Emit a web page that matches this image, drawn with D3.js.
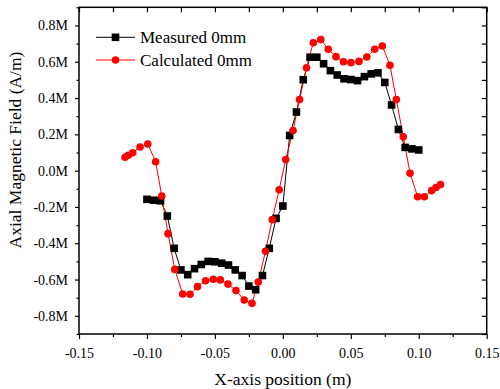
<!DOCTYPE html>
<html><head><meta charset="utf-8">
<script src="https://cdn.jsdelivr.net/npm/d3@7/dist/d3.min.js"></script>
<style>body{margin:0;background:#fff;} svg{display:block;} svg text{font-family:"Liberation Serif","Times New Roman",serif !important;fill:#000;}</style>
</head><body>
<svg id="c" width="500" height="389"></svg>
<script>
const xTicks = [-0.15,-0.10,-0.05,0.00,0.05,0.10,0.15];
const xMinor = [-0.125,-0.075,-0.025,0.025,0.075,0.125];
const yTicks = [-0.8,-0.6,-0.4,-0.2,0.0,0.2,0.4,0.6,0.8];
const yMinor = [-0.9,-0.7,-0.5,-0.3,-0.1,0.1,0.3,0.5,0.7,0.9];
const seriesNames = ["Measured 0mm","Calculated 0mm"];

const measuredX = [-0.100,-0.095,-0.090,-0.085,-0.080,-0.075,-0.070,-0.065,-0.060,-0.055,-0.050,-0.045,-0.040,-0.035,-0.030,-0.025,-0.020,-0.015,-0.010,-0.005,0.000,0.005,0.010,0.015,0.020,0.025,0.030,0.035,0.040,0.045,0.050,0.055,0.060,0.065,0.070,0.075,0.080,0.085,0.090,0.095,0.100];
const measuredY = [-0.158,-0.163,-0.166,-0.250,-0.428,-0.547,-0.573,-0.540,-0.517,-0.500,-0.502,-0.510,-0.520,-0.547,-0.578,-0.636,-0.656,-0.578,-0.428,-0.263,-0.195,0.194,0.323,0.501,0.625,0.625,0.589,0.551,0.527,0.506,0.502,0.496,0.518,0.533,0.539,0.486,0.362,0.227,0.128,0.120,0.114];

const calcX = [-0.1161,-0.1137,-0.1105,-0.1051,-0.0994,-0.0936,-0.0891,-0.0845,-0.0795,-0.0737,-0.0683,-0.0628,-0.0569,-0.0512,-0.0460,-0.0404,-0.0345,-0.0284,-0.0227,-0.0181,-0.0128,-0.0078,-0.0027,0.0021,0.0075,0.0123,0.0174,0.0224,0.0279,0.0334,0.0391,0.0446,0.0501,0.0560,0.0618,0.0676,0.0732,0.0788,0.0835,0.0886,0.0936,0.0992,0.1041,0.1095,0.1127,0.1160];
const calcY = [0.074,0.085,0.099,0.130,0.147,0.049,-0.140,-0.347,-0.544,-0.680,-0.681,-0.639,-0.607,-0.598,-0.602,-0.625,-0.661,-0.713,-0.731,-0.614,-0.444,-0.270,-0.105,0.061,0.221,0.392,0.567,0.705,0.722,0.669,0.628,0.600,0.595,0.602,0.626,0.669,0.687,0.581,0.392,0.187,-0.014,-0.144,-0.144,-0.110,-0.093,-0.076];

const L=79, R=486.7, T=7.3, B=334;
const FONT = '"Liberation Serif","Times New Roman",serif';
const svg = d3.select("#c");
const x = d3.scaleLinear().domain([-0.15,0.15]).range([L,R]);
const y = d3.scaleLinear().domain([-0.9,0.9]).range([B,T]);

function styleAxis(g){
  g.attr("font-family",FONT);
  g.select(".domain").remove();
  g.selectAll("line").attr("stroke","#000").attr("stroke-width",1.2);
  g.selectAll("text").style("font-family",FONT).attr("font-size",14).attr("fill","#000");
}

// bottom axis
const gb = svg.append("g").attr("transform",`translate(0,${B})`)
  .call(d3.axisBottom(x).tickValues(xTicks).tickSize(5).tickPadding(9).tickFormat(d=>d.toFixed(2)));
styleAxis(gb);
const gbm = svg.append("g").attr("transform",`translate(0,${B})`)
  .call(d3.axisBottom(x).tickValues(xMinor).tickSize(3).tickFormat(""));
styleAxis(gbm);
// top axis (inward)
const gt = svg.append("g").attr("transform",`translate(0,${T})`)
  .call(d3.axisBottom(x).tickValues(xTicks.concat(xMinor)).tickSize(5).tickFormat(""));
styleAxis(gt);
// left axis
const gl = svg.append("g").attr("transform",`translate(${L},0)`)
  .call(d3.axisLeft(y).tickValues(yTicks).tickSize(4).tickPadding(7).tickFormat(d=>d.toFixed(1)+"M"));
styleAxis(gl);
const glm = svg.append("g").attr("transform",`translate(${L},0)`)
  .call(d3.axisLeft(y).tickValues(yMinor).tickSize(2.5).tickFormat(""));
styleAxis(glm);
// right axis (inward)
const gr = svg.append("g").attr("transform",`translate(${R},0)`)
  .call(d3.axisLeft(y).tickValues(yTicks.concat(yMinor)).tickSize(5).tickFormat(""));
styleAxis(gr);

// frame
svg.append("rect").attr("x",L).attr("y",T).attr("width",R-L).attr("height",B-T)
  .attr("fill","none").attr("stroke","#000").attr("stroke-width",1.5);

// series
const mData = measuredX.map((v,i)=>[v,measuredY[i]]);
const cData = calcX.map((v,i)=>[v,calcY[i]]);
const line = d3.line().x(d=>x(d[0])).y(d=>y(d[1]));

svg.append("path").datum(mData).attr("d",line).attr("fill","none").attr("stroke","#000").attr("stroke-width",1);
svg.append("path").datum(cData).attr("d",line).attr("fill","none").attr("stroke","#ff0000").attr("stroke-width",1);
svg.append("g").selectAll("rect").data(mData).join("rect")
  .attr("x",d=>x(d[0])-3.8).attr("y",d=>y(d[1])-3.8).attr("width",7.6).attr("height",7.6).attr("fill","#000");
svg.append("g").selectAll("circle").data(cData).join("circle")
  .attr("cx",d=>x(d[0])).attr("cy",d=>y(d[1])).attr("r",3.8).attr("fill","#ff0000");

// legend
const leg = svg.append("g");
const rows = [{n:seriesNames[0],c:"#000",s:"sq",y:37.3},{n:seriesNames[1],c:"#ff0000",s:"ci",y:60}];
rows.forEach(r=>{
  leg.append("line").attr("x1",96).attr("x2",135).attr("y1",r.y).attr("y2",r.y).attr("stroke",r.c).attr("stroke-width",1);
  if(r.s==="sq") leg.append("rect").attr("x",115.5-3.8).attr("y",r.y-3.8).attr("width",7.6).attr("height",7.6).attr("fill",r.c);
  else leg.append("circle").attr("cx",115.5).attr("cy",r.y).attr("r",3.8).attr("fill",r.c);
  leg.append("text").attr("x",140).attr("y",r.y).attr("dy","0.35em").attr("font-size",17).style("font-family",FONT).text(r.n);
});

// axis titles
svg.append("text").attr("x",(L+R)/2).attr("y",385).attr("text-anchor","middle").attr("font-size",17.5).style("font-family",FONT).text("X-axis position (m)");
svg.append("text").attr("transform",`translate(21,150) rotate(-90)`).attr("text-anchor","middle").attr("font-size",17.5).style("font-family",FONT).text("Axial Magnetic Field (A/m)");
</script>
</body></html>
